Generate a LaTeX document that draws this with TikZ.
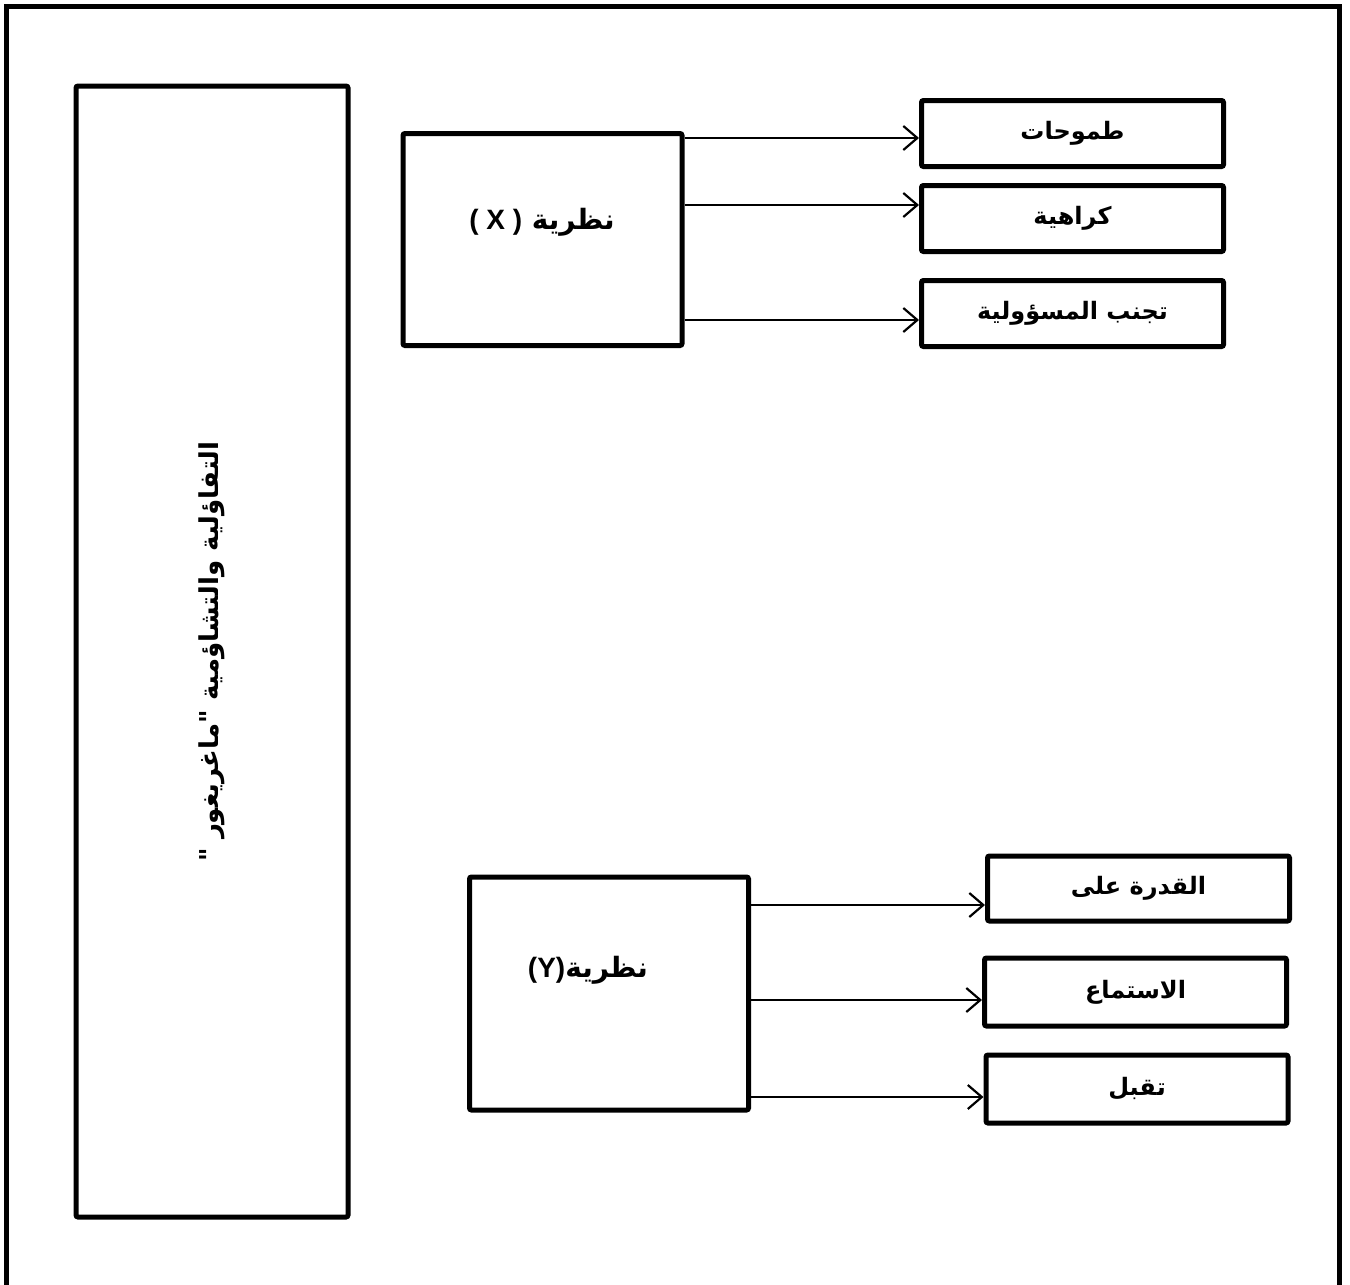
\documentclass[tikz,border=0pt]{standalone}
\usepackage{fontspec}
\setmainfont{Liberation Sans}
\newfontfamily\arabicfont[Script=Arabic]{DejaVu Sans}
\TeXXeTstate=1
\usetikzlibrary{arrows.meta}

\begin{document}
\begin{tikzpicture}[x=.5pt,y=-.5pt,
  box/.style={draw,line width=2.5pt,rounded corners=1pt,inner sep=0},
  itembox/.style={box,minimum width=151pt,minimum height=33pt,font=\arabicfont\bfseries\fontsize{12}{14}\selectfont},
  thbox/.style={box,minimum width=139.5pt,minimum height=106pt},
  thlabel/.style={font=\arabicfont\bfseries\fontsize{14}{16}\selectfont,inner sep=0},
  conn/.style={-{Straight Barb[length=7pt,width=12pt,line width=1.1pt]},line width=.7pt}]
\useasboundingbox (0,0) rectangle (1350,1285);
\draw[line width=2.5pt] (6,1290)--(6,6)--(1339,6)--(1339,1290);
% left column
\node[box,rotate=90,minimum width=565.5pt,minimum height=136pt,font=\arabicfont\bfseries\fontsize{13}{15}\selectfont] (mg) at (212,651.5) {\beginR التفاؤلية والتشاؤمية "ماغريغور "\endR};
% theory X
\node[thbox] (xbox) at (542.5,239.5) {};
\node[thlabel] (xlab) at (542,222) {\beginR نظرية \beginL{\normalfont\bfseries( X )}\endL\endR};
\node[itembox] (x1) at (1072.5,133.5) {\beginR طموحات\endR};
\node[itembox] (x2) at (1072.5,218.5) {\beginR كراهية\endR};
\node[itembox] (x3) at (1072.5,313.5) {\beginR تجنب المسؤولية\endR};
\draw[conn] (xbox.east |- 0,138) -- (x1.west |- 0,138);
\draw[conn] (xbox.east |- 0,205) -- (x2.west |- 0,205);
\draw[conn] (xbox.east |- 0,320) -- (x3.west |- 0,320);
% theory Y
\node[thbox,minimum height=116.5pt] (ybox) at (609,993.5) {};
\node[thlabel] (ylab) at (588,970) {\beginR نظرية\beginL{\normalfont\bfseries(Y)}\endL\endR};
\node[itembox,minimum height=32.5pt] (y1) at (1138.5,888.5) {\beginR القدرة على\endR};
\node[itembox,minimum height=34pt] (y2) at (1135.5,992) {\beginR الاستماع\endR};
\node[itembox,minimum height=34pt] (y3) at (1137,1089) {\beginR تقبل\endR};
\draw[conn] (ybox.east |- 0,905) -- (y1.west |- 0,905);
\draw[conn] (ybox.east |- 0,1000) -- (y2.west |- 0,1000);
\draw[conn] (ybox.east |- 0,1097) -- (y3.west |- 0,1097);
\end{tikzpicture}
\end{document}
